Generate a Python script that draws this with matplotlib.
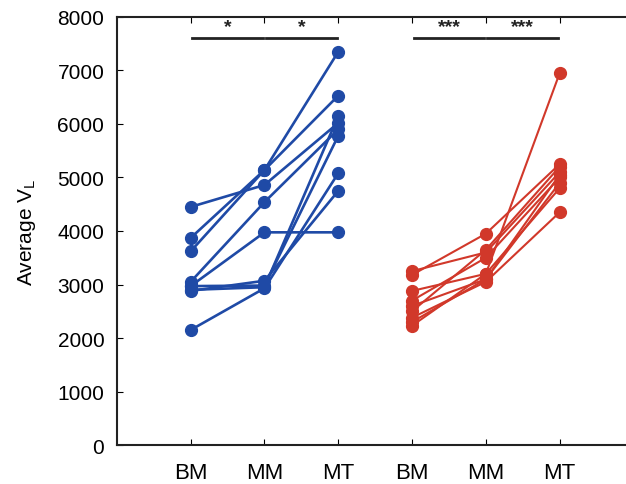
import matplotlib.pyplot as plt

# categories / tick labels
labels = ["BM", "MM", "MT", "BM", "MM", "MT"]

# blue group, one row per subject: BM, MM, MT
blue_bm = [4450, 3870, 3620, 3050, 2970, 2970, 2150, 2880, 2900]
blue_mm = [4860, 5140, 5140, 4540, 3975, 2980, 2930, 3070, 2950]
blue_mt = [6020, 7350, 6530, 5900, 3975, 5780, 5080, 4750, 6150]

# red group
red_bm = [3250, 3180, 2880, 2700, 2600, 2500, 2380, 2230, 2300]
red_mm = [3600, 3950, 3200, 3500, 3100, 3650, 3050, 3200, 3100]
red_mt = [5100, 5250, 6950, 5000, 4900, 5200, 4350, 4800, 5050]

# significance bars: (x start, x end, star text)
sig_bars = [(1, 2, "*"), (2, 3, "*"), (4, 5, "***"), (5, 6, "***")]
sig_level = 7600

blue = "#1f4aa6"
red = "#d1382a"

plt.rcParams["font.family"] = ["Liberation Sans", "DejaVu Sans"]

fig = plt.figure(figsize=(6.26, 4.85), dpi=100)
ax = fig.add_axes([0.1867, 0.0804, 0.8252, 0.8825])

for bm, mm, mt in zip(blue_bm, blue_mm, blue_mt):
    ax.plot([1, 2, 3], [bm, mm, mt], "-o", color=blue, lw=1.9, ms=8.5,
            clip_on=False)
for bm, mm, mt in zip(red_bm, red_mm, red_mt):
    ax.plot([4, 5, 6], [bm, mm, mt], "-o", color=red, lw=1.5, ms=8.5,
            clip_on=False)

for x0, x1, s in sig_bars:
    ax.plot([x0 + 0.02, x1 - 0.02], [sig_level, sig_level], color="#222222",
            lw=2)
    ax.text((x0 + x1) / 2, sig_level + 130, s, ha="center", va="baseline",
            fontsize=14, fontweight="bold", color="#222222")

ax.set_xlim(0, 7)
ax.set_ylim(0, 8000)
ax.set_xticks(range(1, 7))
ax.set_xticklabels(labels, fontsize=16)
ax.set_yticks(range(0, 8001, 1000))
ax.tick_params(axis="y", labelsize=15, direction="in", length=4, pad=9)
ax.tick_params(axis="x", direction="in", length=4, pad=12, top=True)
ax.spines["right"].set_visible(False)
for sp in ["left", "top", "bottom"]:
    ax.spines[sp].set_linewidth(1.5)
    ax.spines[sp].set_color("#222222")

ax.set_ylabel("Average V$_\\mathregular{L}$", fontsize=15, labelpad=14)

fig.savefig("out.png", dpi=100)
